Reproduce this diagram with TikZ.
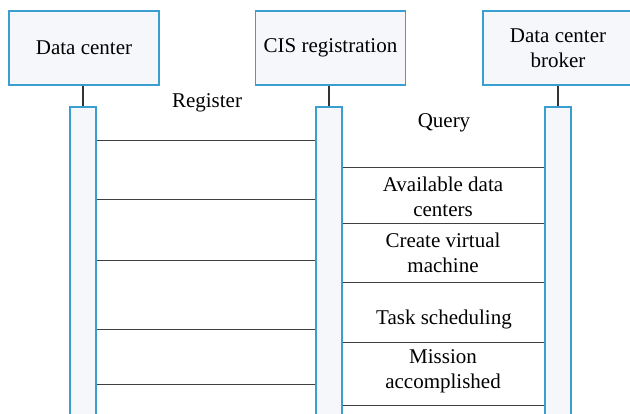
\documentclass[tikz,border=0pt]{standalone}
\usepackage{fontspec}
\setmainfont{Liberation Serif}
\usetikzlibrary{positioning}
\definecolor{lineblue}{RGB}{58,158,208}
\definecolor{boxfill}{RGB}{245,247,251}
\tikzset{
  actor/.style={draw=lineblue,fill=boxfill,line width=0.6pt,minimum width=75pt,minimum height=37pt,align=center,inner sep=1pt},
  bar/.style={draw=lineblue,fill=boxfill,line width=0.6pt,minimum width=13pt,minimum height=160pt,inner sep=0pt},
  msg/.style={draw=black!75,line width=0.5pt},
  lbl/.style={align=center,inner sep=0pt}
}
\begin{document}
\begin{tikzpicture}[x=0.5pt,y=-0.5pt,font=\fontsize{10.5}{12.5}\selectfont]
\useasboundingbox(0,0)rectangle(630,413);
\node[actor](dc)at(84,48){Data center};
\node[actor](cis)at(330.5,48){CIS registration};
\node[actor](brk)at(558,48){Data center\\broker};
\node[bar](b1)at(83,267){};
\node[bar](b2)at(329,267){};
\node[bar](b3)at(558,267){};
\draw[black!80,line width=0.6pt](b1.north|-dc.south)--(b1.north);
\draw[black!80,line width=0.6pt](b2.north|-cis.south)--(b2.north);
\draw[black!80,line width=0.6pt](b3.north|-brk.south)--(b3.north);
% data center <-> registration
\foreach \y in {140,199,260,329,384}
  \draw[msg](b1.east|-0,\y)--(b2.west|-0,\y);
% registration <-> broker
\foreach \y in {167,223,282,342,405}
  \draw[msg](b2.east|-0,\y)--(b3.west|-0,\y);
\node[lbl](reg)at(207,103){Register};
\node[lbl](qry)at(444,123){Query};
\node[lbl](avl)at(443,197){Available data\\centers};
\node[lbl](vm)at(443,253){Create virtual\\machine};
\node[lbl](tsk)at(444,319){Task scheduling};
\node[lbl](msn)at(443,371){Mission\\accomplished};
\end{tikzpicture}
\end{document}
